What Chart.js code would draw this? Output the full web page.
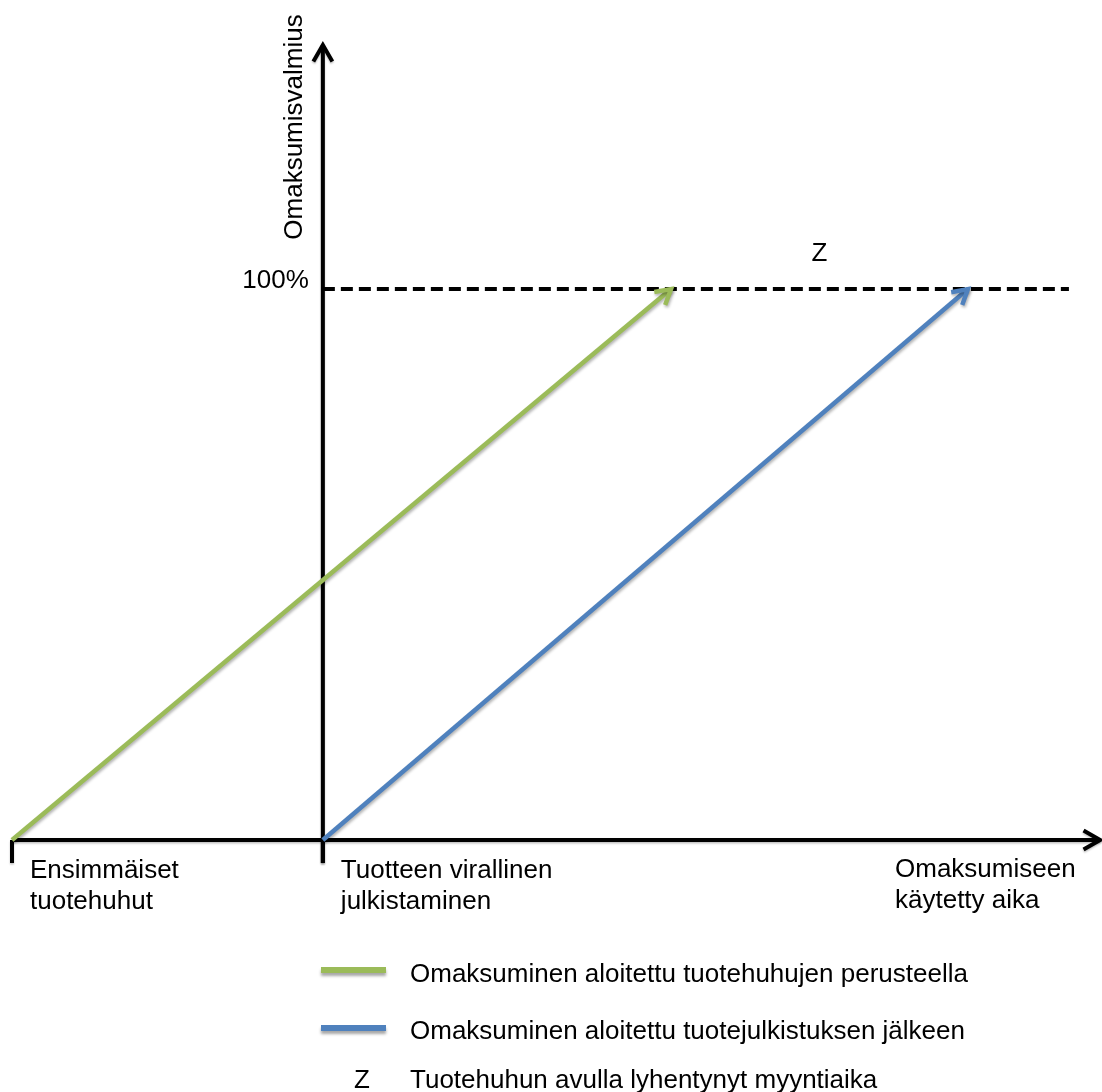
<!DOCTYPE html>
<html>
<head>
<meta charset="utf-8">
<title>Omaksumisvalmius</title>
<script src="https://cdn.jsdelivr.net/npm/chart.js@4/dist/chart.umd.min.js"></script>
<style>
  html, body { margin: 0; padding: 0; background: #ffffff; }
  #wrap { width: 1102px; height: 1092px; }
</style>
</head>
<body>
<div id="wrap"><canvas id="c" width="1102" height="1092"></canvas></div>
<script>
// Time runs in arbitrary units; readiness is in percent.
const timeRange = [0, 35];
const readinessRange = [0, 144.3];
const milestoneTimes = [0, 10];
const milestoneLabels = [
  ['Ensimmäiset', 'tuotehuhut'],
  ['Tuotteen virallinen', 'julkistaminen']
];
const timeAxisTitle = ['Omaksumiseen', 'käytetty aika'];
const readinessAxisTitle = 'Omaksumisvalmius';
const fullReadiness = 100;
const fullReadinessLabel = '100%';

// Adoption started from rumours / after the launch
const rumourTimes = [0, 21.2];
const rumourReadiness = [0, 100];
const launchTimes = [10, 30.75];
const launchReadiness = [0, 100];
// Reference line at full readiness
const fullLineTimes = [10, 34];

const seriesNames = [
  'Omaksuminen aloitettu tuotehuhujen perusteella',
  'Omaksuminen aloitettu tuotejulkistuksen jälkeen'
];
const gapSymbol = 'Z';
const gapDescription = 'Tuotehuhun avulla lyhentynyt myyntiaika';

const GREEN = '#9BBB59';
const BLUE = '#4F81BD';
const FONT = '26px "Liberation Sans", Arial, Helvetica, sans-serif';

const toPoints = (xs, ys) => xs.map((x, i) => ({ x, y: ys[i] }));

function chevron(ctx, tipX, tipY, angle, len, spread) {
  ctx.beginPath();
  ctx.moveTo(tipX - len * Math.cos(angle - spread), tipY - len * Math.sin(angle - spread));
  ctx.lineTo(tipX, tipY);
  ctx.lineTo(tipX - len * Math.cos(angle + spread), tipY - len * Math.sin(angle + spread));
  ctx.stroke();
}

// Axes, ticks and their labels, drawn beneath the series
const axesPlugin = {
  id: 'axesPlugin',
  beforeDatasetsDraw(chart) {
    const { ctx, chartArea, scales: { x, y } } = chart;
    const y0 = y.getPixelForValue(readinessRange[0]);
    const x0 = x.getPixelForValue(timeRange[0]);
    const yAxisX = x.getPixelForValue(milestoneTimes[1]);
    ctx.save();
    ctx.strokeStyle = '#000';
    ctx.lineWidth = 4;
    ctx.lineJoin = 'miter';
    ctx.shadowColor = 'rgba(0,0,0,0.25)';
    ctx.shadowBlur = 2;
    ctx.shadowOffsetY = 1.5;

    // time axis
    ctx.beginPath();
    ctx.moveTo(x0, y0);
    ctx.lineTo(chartArea.right, y0);
    ctx.stroke();
    chevron(ctx, chartArea.right, y0, 0, 19, Math.PI / 6);

    // readiness axis
    ctx.beginPath();
    ctx.moveTo(yAxisX, y0 + 23);
    ctx.lineTo(yAxisX, chartArea.top);
    ctx.stroke();
    chevron(ctx, yAxisX, chartArea.top, -Math.PI / 2, 19, Math.PI / 6);

    // milestone ticks
    milestoneTimes.forEach(t => {
      const px = x.getPixelForValue(t);
      ctx.beginPath();
      ctx.moveTo(px, y0);
      ctx.lineTo(px, y0 + 23);
      ctx.stroke();
    });
    ctx.restore();

    ctx.save();
    ctx.fillStyle = '#000';
    ctx.font = FONT;
    ctx.textAlign = 'left';
    ctx.textBaseline = 'alphabetic';
    milestoneTimes.forEach((t, i) => {
      const px = x.getPixelForValue(t) + 18;
      milestoneLabels[i].forEach((line, j) => ctx.fillText(line, px, y0 + 38 + j * 31));
    });
    timeAxisTitle.forEach((line, j) => ctx.fillText(line, chartArea.right - 205, y0 + 37 + j * 31));

    // 100% label
    const yFull = y.getPixelForValue(fullReadiness);
    ctx.textAlign = 'right';
    ctx.fillText(fullReadinessLabel, yAxisX - 14, yFull - 1);

    // readiness axis title
    ctx.save();
    ctx.translate(yAxisX - 21, chartArea.top + 82);
    ctx.rotate(-Math.PI / 2);
    ctx.textAlign = 'center';
    ctx.fillText(readinessAxisTitle, 0, 0);
    ctx.restore();
    ctx.restore();
  }
};

// Soft drop shadow under the coloured series
const shadowPlugin = {
  id: 'shadowPlugin',
  beforeDatasetDraw(chart, args) {
    if (args.index === 0) return;
    const ctx = chart.ctx;
    ctx.save();
    ctx.shadowColor = 'rgba(0,0,0,0.3)';
    ctx.shadowBlur = 3;
    ctx.shadowOffsetX = 1;
    ctx.shadowOffsetY = 2;
  },
  afterDatasetDraw(chart, args) {
    if (args.index === 0) return;
    chart.ctx.restore();
  }
};

// Arrowheads on the series, the gap label and the legend
const overlayPlugin = {
  id: 'overlayPlugin',
  afterDatasetsDraw(chart) {
    const { ctx, scales: { x, y } } = chart;
    const ends = [];
    [1, 2].forEach(idx => {
      const meta = chart.getDatasetMeta(idx);
      const pts = meta.data;
      const a = pts[pts.length - 2], b = pts[pts.length - 1];
      const ang = Math.atan2(b.y - a.y, b.x - a.x);
      ctx.save();
      ctx.strokeStyle = chart.data.datasets[idx].borderColor;
      ctx.lineWidth = 4.5;
      ctx.lineJoin = 'miter';
      ctx.lineCap = 'butt';
      ctx.shadowColor = 'rgba(0,0,0,0.3)';
      ctx.shadowBlur = 3;
      ctx.shadowOffsetX = 1;
      ctx.shadowOffsetY = 2;
      chevron(ctx, b.x, b.y, ang, 17, Math.PI / 6);
      ctx.restore();
      ends.push(b.x);
    });

    ctx.save();
    ctx.fillStyle = '#000';
    ctx.font = FONT;
    ctx.textAlign = 'center';
    ctx.textBaseline = 'alphabetic';
    ctx.fillText(gapSymbol, (ends[0] + ends[1]) / 2, y.getPixelForValue(fullReadiness) - 28);
    ctx.restore();

    // legend
    const swatchX = 321, swatchW = 65, textX = 410;
    const rows = [
      { color: GREEN, text: seriesNames[0], lineY: 970, base: 982 },
      { color: BLUE, text: seriesNames[1], lineY: 1028, base: 1039 }
    ];
    rows.forEach(r => {
      ctx.save();
      ctx.strokeStyle = r.color;
      ctx.lineWidth = 6;
      ctx.shadowColor = 'rgba(0,0,0,0.35)';
      ctx.shadowBlur = 3;
      ctx.shadowOffsetY = 3;
      ctx.beginPath();
      ctx.moveTo(swatchX, r.lineY);
      ctx.lineTo(swatchX + swatchW, r.lineY);
      ctx.stroke();
      ctx.restore();
      ctx.save();
      ctx.fillStyle = '#000';
      ctx.font = FONT;
      ctx.fillText(r.text, textX, r.base);
      ctx.restore();
    });
    ctx.save();
    ctx.fillStyle = '#000';
    ctx.font = FONT;
    ctx.textAlign = 'center';
    ctx.fillText(gapSymbol, 362, 1088);
    ctx.textAlign = 'left';
    ctx.fillText(gapDescription, textX, 1088);
    ctx.restore();
  }
};

new Chart(document.getElementById('c'), {
  type: 'line',
  data: {
    datasets: [
      {
        label: fullReadinessLabel,
        data: toPoints(fullLineTimes, [fullReadiness, fullReadiness]),
        borderColor: '#000',
        borderWidth: 4,
        borderDash: [12, 6],
        pointRadius: 0,
        clip: false
      },
      {
        label: seriesNames[0],
        data: toPoints(rumourTimes, rumourReadiness),
        borderColor: GREEN,
        borderWidth: 4.5,
        pointRadius: 0,
        clip: false
      },
      {
        label: seriesNames[1],
        data: toPoints(launchTimes, launchReadiness),
        borderColor: BLUE,
        borderWidth: 4.5,
        pointRadius: 0,
        clip: false
      }
    ]
  },
  options: {
    responsive: false,
    animation: false,
    devicePixelRatio: 1,
    layout: { padding: { left: 12, right: 2, top: 45, bottom: 252 } },
    scales: {
      x: { type: 'linear', min: timeRange[0], max: timeRange[1], display: false },
      y: { type: 'linear', min: readinessRange[0], max: readinessRange[1], display: false }
    },
    plugins: {
      legend: { display: false },
      tooltip: { enabled: false }
    }
  },
  plugins: [axesPlugin, shadowPlugin, overlayPlugin]
});
</script>
</body>
</html>
